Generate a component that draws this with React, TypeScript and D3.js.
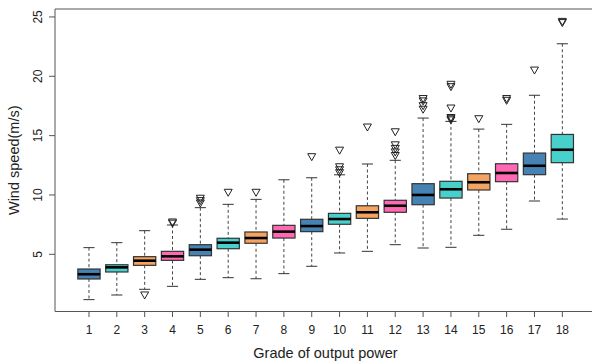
import * as d3 from 'd3';

// Boxplot statistics per grade (wind speed, m/s)
const grades = [1, 2, 3, 4, 5, 6, 7, 8, 9, 10, 11, 12, 13, 14, 15, 16, 17, 18];
const lowerWhisker = [1.18, 1.57, 2.05, 2.3, 2.89, 3.03, 2.94, 3.37, 3.99, 5.11, 5.25, 5.81, 5.53, 5.59, 6.6, 7.11, 9.49, 7.97];
const q1 = [2.92, 3.51, 4.07, 4.49, 4.88, 5.47, 5.93, 6.37, 6.91, 7.53, 8.03, 8.54, 9.18, 9.74, 10.42, 11.12, 11.71, 12.72];
const median = [3.32, 3.9, 4.46, 4.83, 5.39, 5.98, 6.37, 6.91, 7.38, 7.97, 8.54, 9.09, 10.0, 10.48, 11.07, 11.85, 12.46, 13.81];
const q3 = [3.76, 4.12, 4.8, 5.25, 5.81, 6.35, 6.88, 7.44, 7.95, 8.45, 9.09, 9.55, 10.95, 11.15, 11.79, 12.63, 13.53, 15.1];
const upperWhisker = [5.56, 5.98, 6.99, 7.47, 8.93, 9.21, 9.63, 11.28, 11.45, 11.7, 12.61, 12.92, 16.48, 16.2, 15.55, 15.95, 18.4, 22.74];
const outliers = [
  [],
  [],
  [1.55],
  [7.6, 7.7],
  [9.3, 9.5, 9.7],
  [10.2],
  [10.2],
  [],
  [13.2],
  [13.75, 12.35, 12.1, 11.85],
  [15.7],
  [15.3, 14.2, 13.9, 13.6, 13.3],
  [18.1, 17.9, 17.5, 17.2],
  [19.3, 19.1, 17.3, 16.5, 16.4, 16.3],
  [16.4],
  [18.1, 17.95],
  [20.5],
  [24.6, 24.5],
];
const yTicks = [5, 10, 15, 20, 25];
const palette = ['#4682B4', '#48D1CC', '#F4A460', '#FF69B4'];

const W = 592;
const H = 362;

export default function App() {
  // plot region spans past the right edge, like the cropped original
  const x = d3.scaleLinear().domain([-0.22, 19.22]).range([55, 596.3]);
  const y = d3.scaleLinear().domain([0.18, 25.67]).range([311.5, 9]);
  const step = x(2) - x(1);
  const boxW = step * 0.8;
  const capW = boxW * 0.5;
  const font = "'Liberation Sans', Arial, sans-serif";

  const tri = (cx: number, cy: number) =>
    `M${cx - 4},${cy - 3.3}L${cx + 4},${cy - 3.3}L${cx},${cy + 3.7}Z`;

  return (
    <svg width={W} height={H} style={{ display: 'block', position: 'absolute', left: 0, top: 0, background: '#fff' }}>
      {/* frame: left, top, bottom */}
      <path d={`M${W},9H55V311.5H${W}`} fill="none" stroke="#555" strokeWidth={1} />

      {/* y axis */}
      {yTicks.map(t => (
        <g key={t}>
          <line x1={49} x2={55} y1={y(t)} y2={y(t)} stroke="#555" />
          <text
            transform={`translate(42,${y(t)}) rotate(-90)`}
            textAnchor="middle"
            fontFamily={font}
            fontSize={12}
            fill="#222"
          >
            {t}
          </text>
        </g>
      ))}
      <text
        transform={`translate(19,${(9 + 311.5) / 2}) rotate(-90)`}
        textAnchor="middle"
        fontFamily={font}
        fontSize={14.5}
        fill="#222"
      >
        Wind speed(m/s)
      </text>

      {/* x axis */}
      {grades.map(g => (
        <g key={g}>
          <line x1={x(g)} x2={x(g)} y1={311.5} y2={317} stroke="#555" />
          <text x={x(g)} y={334} textAnchor="middle" fontFamily={font} fontSize={12} fill="#222">
            {g}
          </text>
        </g>
      ))}
      <text x={325.5} y={358} textAnchor="middle" fontFamily={font} fontSize={14.5} fill="#222">
        Grade of output power
      </text>

      {/* boxes */}
      {grades.map((g, i) => {
        const cx = x(g);
        return (
          <g key={g}>
            <line x1={cx} x2={cx} y1={y(upperWhisker[i])} y2={y(q3[i])} stroke="#444" strokeDasharray="3,2.5" />
            <line x1={cx} x2={cx} y1={y(q1[i])} y2={y(lowerWhisker[i])} stroke="#444" strokeDasharray="3,2.5" />
            <line x1={cx - capW / 2} x2={cx + capW / 2} y1={y(upperWhisker[i])} y2={y(upperWhisker[i])} stroke="#333" />
            <line x1={cx - capW / 2} x2={cx + capW / 2} y1={y(lowerWhisker[i])} y2={y(lowerWhisker[i])} stroke="#333" />
            <rect
              x={cx - boxW / 2}
              y={y(q3[i])}
              width={boxW}
              height={y(q1[i]) - y(q3[i])}
              fill={palette[i % 4]}
              stroke="#333"
              strokeWidth={1.2}
            />
            <line x1={cx - boxW / 2} x2={cx + boxW / 2} y1={y(median[i])} y2={y(median[i])} stroke="#000" strokeWidth={2.6} />
            {outliers[i].map((v, k) => (
              <path key={k} d={tri(cx, y(v))} fill="none" stroke="#222" strokeWidth={1} />
            ))}
          </g>
        );
      })}
    </svg>
  );
}
